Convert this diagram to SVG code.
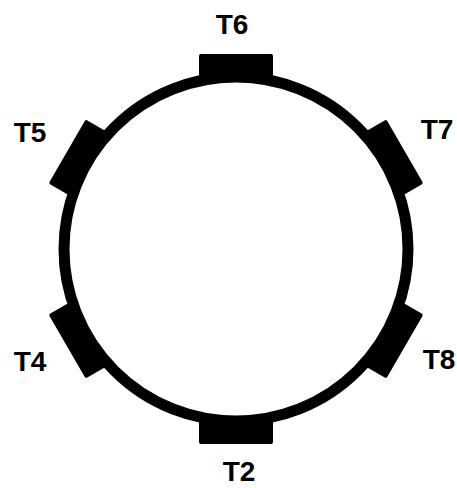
<svg xmlns="http://www.w3.org/2000/svg" width="457" height="488" viewBox="0 0 457 488">
<style>
.lbl{font-family:"Liberation Sans",Arial,sans-serif;font-weight:bold;font-size:28px;fill:#000;text-anchor:middle}
.pad{fill:#000}
</style>
<defs>
<rect id="padshape" x="-37" y="-195" width="74" height="26" rx="2"/>
</defs>
<rect width="457" height="488" fill="#fff"/>
<g id="ring">
<circle cx="236" cy="249" r="172" fill="#fff" stroke="#000" stroke-width="11"/>
</g>
<g id="T6"><use href="#padshape" class="pad" transform="translate(236,249) rotate(0)"/><text class="lbl" x="232" y="34">T6</text></g>
<g id="T7"><use href="#padshape" class="pad" transform="translate(236,249) rotate(60)"/><text class="lbl" x="437" y="139">T7</text></g>
<g id="T8"><use href="#padshape" class="pad" transform="translate(236,249) rotate(120)"/><text class="lbl" x="439" y="369">T8</text></g>
<g id="T2"><use href="#padshape" class="pad" transform="translate(236,249) rotate(180)"/><text class="lbl" x="239" y="481">T2</text></g>
<g id="T4"><use href="#padshape" class="pad" transform="translate(236,249) rotate(240)"/><text class="lbl" x="30" y="371">T4</text></g>
<g id="T5"><use href="#padshape" class="pad" transform="translate(236,249) rotate(300)"/><text class="lbl" x="30" y="142">T5</text></g>
</svg>
